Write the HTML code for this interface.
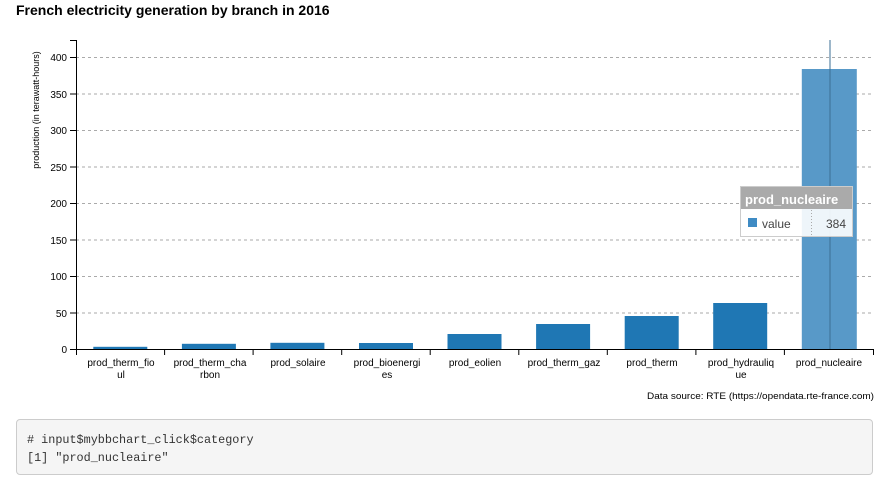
<!DOCTYPE html>
<html><head><meta charset="utf-8"><style>
body{margin:0;background:#fff;width:889px;height:485px;overflow:hidden;font-family:"Liberation Sans",sans-serif}
.code{position:absolute;left:16px;top:419px;width:857px;height:56px;background:#f5f5f5;border:1px solid #ccc;border-radius:4px;box-sizing:border-box;font-family:"Liberation Mono","DejaVu Sans Mono",monospace;font-size:11.8px;line-height:18px;padding:11px 0 0 10px;color:#333}
</style></head><body>
<svg width="889" height="420" style="position:absolute;left:0;top:0" font-family="Liberation Sans, sans-serif">
<text x="16" y="15" font-size="14" font-weight="bold" fill="#000">French electricity generation by branch in 2016</text>
<g stroke="#aaa" stroke-dasharray="3,3" stroke-width="1">
<line x1="76" x2="873" y1="57.5" y2="57.5"/><line x1="76" x2="873" y1="94" y2="94"/><line x1="76" x2="873" y1="130.5" y2="130.5"/><line x1="76" x2="873" y1="167" y2="167"/><line x1="76" x2="873" y1="203.5" y2="203.5"/><line x1="76" x2="873" y1="240" y2="240"/><line x1="76" x2="873" y1="276.5" y2="276.5"/><line x1="76" x2="873" y1="313" y2="313"/>
</g>
<g fill="#1f77b4">
<rect x="93.3" y="346.8" width="54" height="2.2"/>
<rect x="181.9" y="343.8" width="54" height="5.2"/>
<rect x="270.4" y="342.8" width="54" height="6.2"/>
<rect x="359" y="343" width="54" height="6"/>
<rect x="447.5" y="334" width="54" height="15"/>
<rect x="536.1" y="324" width="54" height="25"/>
<rect x="624.7" y="316" width="54" height="33"/>
<rect x="713.2" y="303" width="54" height="46"/>
<rect x="801.8" y="69" width="55" height="280" fill="#5899c8"/>
</g>
<line x1="830" x2="830" y1="40" y2="349" stroke="#3b6f95" stroke-width="1"/>
<g stroke="#000" stroke-width="1" fill="none">
<path d="M70,40.5H76.5V349.5H873.5V355"/>
<path d="M70,57.5H76M70,94H76M70,130.5H76M70,167H76M70,203.5H76M70,240H76M70,276.5H76M70,313H76M70,349.5H76"/>
<path d="M76.5,349V355M164.6,349V355M253.1,349V355M341.7,349V355M430.2,349V355M518.8,349V355M607.3,349V355M695.9,349V355M784.4,349V355"/>
</g>
<g font-size="10" fill="#000" text-anchor="end">
<text x="67" y="61">400</text><text x="67" y="98">350</text><text x="67" y="134">300</text><text x="67" y="171">250</text><text x="67" y="207">200</text><text x="67" y="244">150</text><text x="67" y="280">100</text><text x="67" y="317">50</text><text x="67" y="353">0</text>
</g>
<text transform="translate(39,110) rotate(-90)" font-size="9" text-anchor="middle" fill="#000">production (in terawatt-hours)</text>
<g font-size="10" fill="#000" text-anchor="middle">
<text x="121" y="366">prod_therm_fio</text><text x="121" y="378">ul</text>
<text x="210" y="366">prod_therm_cha</text><text x="210" y="378">rbon</text>
<text x="298" y="366">prod_solaire</text>
<text x="387" y="366">prod_bioenergi</text><text x="387" y="378">es</text>
<text x="475" y="366">prod_eolien</text>
<text x="564" y="366">prod_therm_gaz</text>
<text x="652" y="366">prod_therm</text>
<text x="741" y="366">prod_hydrauliq</text><text x="741" y="378">ue</text>
<text x="829" y="366">prod_nucleaire</text>
</g>
<text x="647" y="399" font-size="9.5" textLength="227" lengthAdjust="spacingAndGlyphs" fill="#000">Data source: RTE (https://opendata.rte-france.com)</text>
<g>
<rect x="740.5" y="186.5" width="112" height="50" fill="#fff" fill-opacity="0.9" stroke="#ccc"/>
<rect x="741" y="187" width="111" height="22" fill="#aaa"/>
<text x="745" y="204" font-size="13" font-weight="bold" fill="#fff">prod_nucleaire</text>
<rect x="748" y="218" width="9" height="9" fill="#3f8bc4"/>
<text x="762" y="228" font-size="12" fill="#444">value</text>
<line x1="811.5" x2="811.5" y1="210" y2="236" stroke="#aaa" stroke-dasharray="1,2"/>
<text x="846" y="228" font-size="12" fill="#444" text-anchor="end">384</text>
</g>
</svg>
<div class="code"># input$mybbchart_click$category<br>[1] "prod_nucleaire"</div>
</body></html>
